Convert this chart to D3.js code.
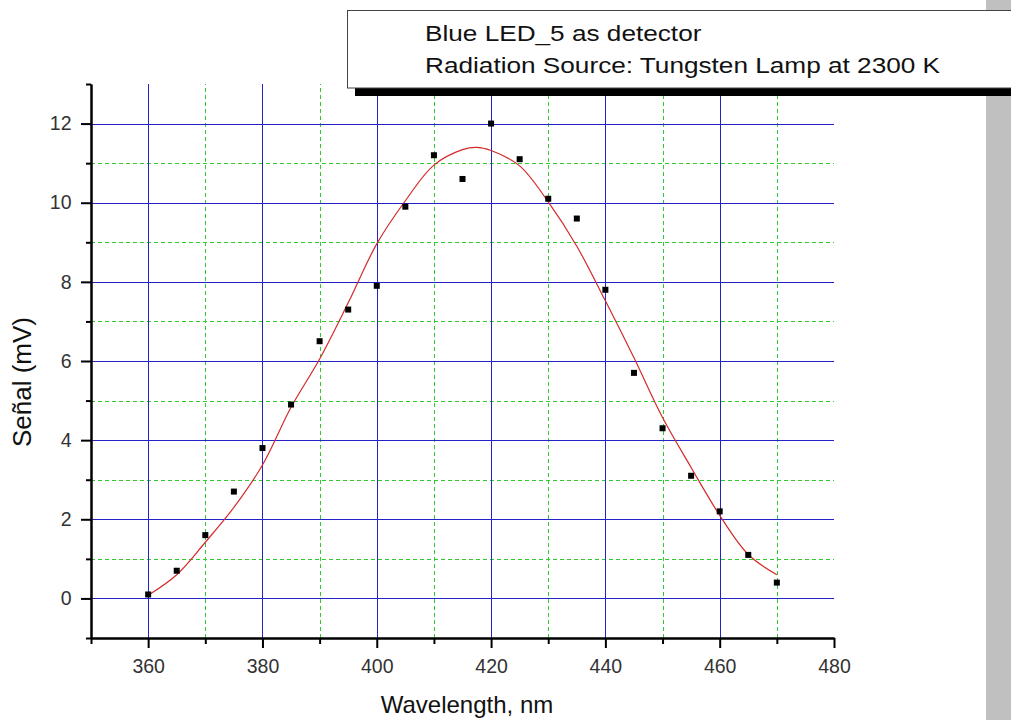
<!DOCTYPE html>
<html>
<head>
<meta charset="utf-8">
<script src="https://cdn.jsdelivr.net/npm/d3@7"></script>
<style>
  body { margin: 0; background: #fff; }
  svg { display: block; font-family: "Liberation Sans", Arial, sans-serif; }
</style>
</head>
<body>
<svg id="chart" width="1011" height="720"></svg>
<script>
(function() {

  'use strict';

  // measured points
  var wavelengths = [360, 365, 370, 375, 380, 385, 390, 395, 400, 405, 410, 415,
                     420, 425, 430, 435, 440, 445, 450, 455, 460, 465, 470];
  var signals = [0.1, 0.7, 1.6, 2.7, 3.8, 4.9, 6.5, 7.3, 7.9, 9.9, 11.2, 10.6,
                 12.0, 11.1, 10.1, 9.6, 7.8, 5.7, 4.3, 3.1, 2.2, 1.1, 0.4];

  // fitted curve
  var fitX = [360, 365, 370, 375, 380, 385, 390, 395, 400, 405, 410, 415, 417.5,
              420, 425, 430, 435, 440, 445, 450, 455, 460, 465, 470];
  var fitY = [0.08, 0.6, 1.42, 2.3, 3.37, 4.83, 6.05, 7.47, 8.96, 10.05, 10.95, 11.34, 11.4,
              11.32, 10.93, 10.02, 8.9, 7.52, 6.08, 4.57, 3.31, 2.1, 1.11, 0.6];

  var xMajor = [360, 380, 400, 420, 440, 460, 480];
  var xMinor = [350, 370, 390, 410, 430, 450, 470];
  var yMajor = [0, 2, 4, 6, 8, 10, 12];
  var yMinor = [-1, 1, 3, 5, 7, 9, 11, 13];

  var legendLines = ['Blue LED_5 as detector', 'Radiation Source: Tungsten Lamp at 2300 K'];

  var blue = '#2323c8', green = '#2ecc2e', red = '#d42a2a';

  var svg = d3.select('#chart');

  var x = d3.scaleLinear().domain([350, 480]).range([91, 834]);
  var y = d3.scaleLinear().domain([-1, 13]).range([638, 84]);
  var px = function(v){return Math.round(v) + 0.5;};

  // grid
  var grid = svg.append('g');
  grid.selectAll('.vMinor').data(xMinor.filter(function(d){return d > 350;})).enter().append('line')
    .attr('x1', function(d){return px(x(d));}).attr('x2', function(d){return px(x(d));})
    .attr('y1', y(-1)).attr('y2', y(13))
    .attr('stroke', green).attr('stroke-dasharray', '4,3');
  grid.selectAll('.hMinor').data(yMinor.filter(function(d){return d > -1 && d < 13;})).enter().append('line')
    .attr('x1', x(350)).attr('x2', x(480))
    .attr('y1', function(d){return px(y(d));}).attr('y2', function(d){return px(y(d));})
    .attr('stroke', green).attr('stroke-dasharray', '4,3');
  grid.selectAll('.vMajor').data(xMajor.filter(function(d){return d < 480;})).enter().append('line')
    .attr('x1', function(d){return px(x(d));}).attr('x2', function(d){return px(x(d));})
    .attr('y1', y(-1)).attr('y2', y(13))
    .attr('stroke', blue);
  grid.selectAll('.hMajor').data(yMajor).enter().append('line')
    .attr('x1', x(350)).attr('x2', x(480))
    .attr('y1', function(d){return px(y(d));}).attr('y2', function(d){return px(y(d));})
    .attr('stroke', blue);

  // axes
  function styleAxis(g) {
    g.select('.domain').attr('stroke', '#000').attr('stroke-width', 2);
    g.selectAll('.tick line').attr('stroke', '#000').attr('stroke-width', 2);
    g.selectAll('.tick text').attr('fill', '#333').style('font-size', '19.5px')
      .style('font-family', '"Liberation Sans", Arial, sans-serif');
  }

  svg.append('g').attr('transform', 'translate(0,' + y(-1) + ')')
    .call(d3.axisBottom(x).tickValues(xMinor).tickSize(6).tickSizeOuter(0).tickFormat(''))
    .call(styleAxis);
  svg.append('g').attr('transform', 'translate(0,' + y(-1) + ')')
    .call(d3.axisBottom(x).tickValues(xMajor).tickSize(10).tickSizeOuter(0).tickPadding(11).tickFormat(d3.format('d')))
    .call(styleAxis);

  svg.append('g').attr('transform', 'translate(' + x(350) + ',0)')
    .call(d3.axisLeft(y).tickValues(yMinor).tickSize(5).tickSizeOuter(0).tickFormat(''))
    .call(styleAxis);
  svg.append('g').attr('transform', 'translate(' + x(350) + ',0)')
    .call(d3.axisLeft(y).tickValues(yMajor).tickSize(10).tickSizeOuter(0).tickPadding(9.5).tickFormat(d3.format('d')))
    .call(styleAxis);

  // axis titles
  svg.append('text')
    .attr('x', 467).attr('y', 713)
    .attr('text-anchor', 'middle')
    .style('font-size', '24px').attr('fill', '#111')
    .text('Wavelength, nm');
  svg.append('text')
    .attr('transform', 'translate(31,382) rotate(-90)')
    .attr('text-anchor', 'middle')
    .style('font-size', '26px').attr('fill', '#111')
    .text('Señal (mV)');

  // fit line
  var fit = fitX.map(function(d, i){return {x: d, y: fitY[i]};});
  svg.append('path').datum(fit)
    .attr('fill', 'none').attr('stroke', red).attr('stroke-width', 1.2)
    .attr('d', d3.line().x(function(d){return x(d.x);}).y(function(d){return y(d.y);}).curve(d3.curveCatmullRom));

  // data points
  var pts = wavelengths.map(function(d, i){return {x: d, y: signals[i]};});
  var size = 6;
  svg.selectAll('.pt').data(pts).enter().append('rect')
    .attr('class', 'pt')
    .attr('x', function(d){return x(d.x) - size / 2;})
    .attr('y', function(d){return y(d.y) - size / 2;})
    .attr('width', size).attr('height', size)
    .attr('fill', '#000');

  // gray side bar
  svg.append('rect').attr('x', 986).attr('y', 0).attr('width', 25).attr('height', 720).attr('fill', '#c0c0c0');

  // legend box with shadow
  svg.append('rect').attr('x', 355).attr('y', 18).attr('width', 700).attr('height', 78).attr('fill', '#000');
  svg.append('rect').attr('x', 347.5).attr('y', 10.5).attr('width', 700).attr('height', 77.5)
    .attr('fill', '#fff').attr('stroke', '#444').attr('stroke-width', 1);

  // text in the legend is drawn horizontally stretched
  svg.selectAll('.legendText').data(legendLines).enter().append('text')
    .attr('class', 'legendText')
    .attr('transform', function(d, i){return 'translate(425,' + (41 + i * 32) + ') scale(1.19,1)';})
    .style('font-size', '22px').attr('fill', '#111')
    .text(function(d){return d;});

})();
</script>
</body>
</html>
